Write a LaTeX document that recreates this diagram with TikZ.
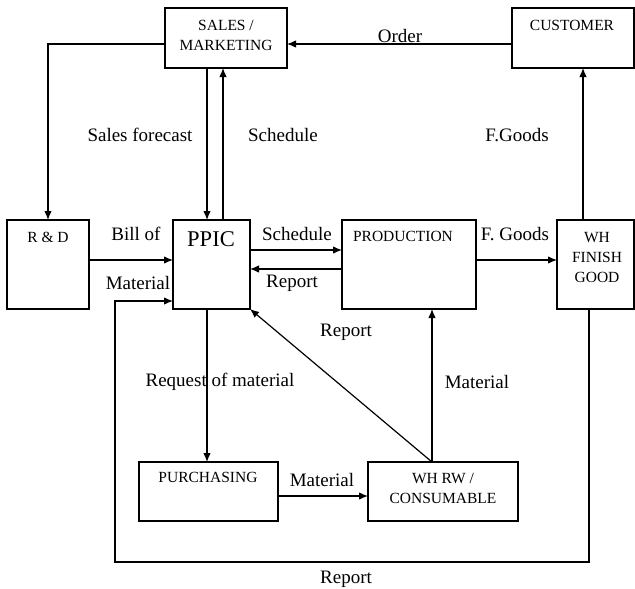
\documentclass[tikz,border=0pt]{standalone}
\usepackage{fontspec}
\setmainfont{Liberation Serif}
\usetikzlibrary{arrows.meta}
\begin{document}
\begin{tikzpicture}[x=1pt,y=-1pt,
  box/.style={draw,line width=1.3pt,inner sep=0pt,outer sep=0pt},
  boxtxt/.style={font=\fontsize{15.5}{20}\selectfont,align=center,inner sep=0pt},
  lbl/.style={font=\fontsize{19}{22}\selectfont,inner sep=0pt},
  arr/.style={line width=1.2pt,-{Latex[length=9pt,width=7.5pt]}}]
\useasboundingbox (0,0) rectangle (635,589);
% boxes
\node[box,minimum width=122pt,minimum height=60pt] (sales) at (226,38) {};
\node[box,minimum width=122pt,minimum height=60pt] (cust) at (573,38) {};
\node[box,minimum width=82pt,minimum height=89pt] (rd) at (48,264.5) {};
\node[box,minimum width=77pt,minimum height=89pt] (ppic) at (211.5,264.5) {};
\node[box,minimum width=134pt,minimum height=89pt] (prod) at (409,264.5) {};
\node[box,minimum width=77pt,minimum height=89pt] (whfg) at (595.5,264.5) {};
\node[box,minimum width=139pt,minimum height=59pt] (purch) at (208.5,491.5) {};
\node[box,minimum width=150pt,minimum height=59pt] (whrw) at (443,491.5) {};
% box texts
\node[boxtxt] (salest) at (226,35) {SALES /\\MARKETING};
\node[boxtxt] (custt) at (572,25) {CUSTOMER};
\node[boxtxt] (rdt) at (48,237) {R \& D};
\node[inner sep=0pt,font=\fontsize{22.5}{24}\selectfont] (ppict) at (211,239) {PPIC};
\node[boxtxt] (prodt) at (403,236) {PRODUCTION};
\node[boxtxt] (whfgt) at (597,257) {WH\\FINISH\\GOOD};
\node[boxtxt] (purcht) at (208,477) {PURCHASING};
\node[boxtxt] (whrwt) at (443,488) {WH RW /\\CONSUMABLE};
% connectors
\coordinate (lb) at (115,562);
\draw[arr] (cust.west |- 0,44) -- (sales.east |- 0,44);
\draw[arr] (sales.west |- 0,44) -| (rd.north);
\draw[arr] (sales.south -| 207,0) -- (ppic.north -| 207,0);
\draw[arr] (ppic.north -| 223,0) -- (sales.south -| 223,0);
\draw[arr] (whfg.north -| 583,0) -- (cust.south -| 583,0);
\draw[arr] (rd.east |- 0,260) -- (ppic.west |- 0,260);
\draw[arr] (ppic.east |- 0,250) -- (prod.west |- 0,250);
\draw[arr] (prod.west |- 0,269) -- (ppic.east |- 0,269);
\draw[arr] (prod.east |- 0,260) -- (whfg.west |- 0,260);
\draw[arr] (whfg.south -| 589,0) |- (lb) |- (ppic.west |- 0,301);
\draw[arr] (ppic.south -| 207,0) -- (purch.north -| 207,0);
\draw[arr] (purch.east |- 0,496) -- (whrw.west |- 0,496);
\draw[arr] (whrw.north -| 432,0) -- (prod.south -| 432,0);
\draw[arr] (whrw.north -| 432,0) -- (ppic.south east);
% labels
\node[lbl] (l1) at (400,36) {Order};
\node[lbl] (l2) at (140,135) {Sales forecast};
\node[lbl] (l3) at (283,135) {Schedule};
\node[lbl] (l4) at (517,135) {F.Goods};
\node[lbl] (l5) at (136,234) {Bill of};
\node[lbl] (l6) at (138,283) {Material};
\node[lbl] (l7) at (297,234) {Schedule};
\node[lbl] (l8) at (292,283) {Report};
\node[lbl] (l9) at (515,234) {F. Goods};
\node[lbl] (l10) at (346,332) {Report};
\node[lbl] (l11) at (477,382) {Material};
\node[lbl] (l12) at (220,382) {Request of material};
\node[lbl] (l13) at (322,480) {Material};
\node[lbl] (l14) at (346,579) {Report};
\end{tikzpicture}
\end{document}
